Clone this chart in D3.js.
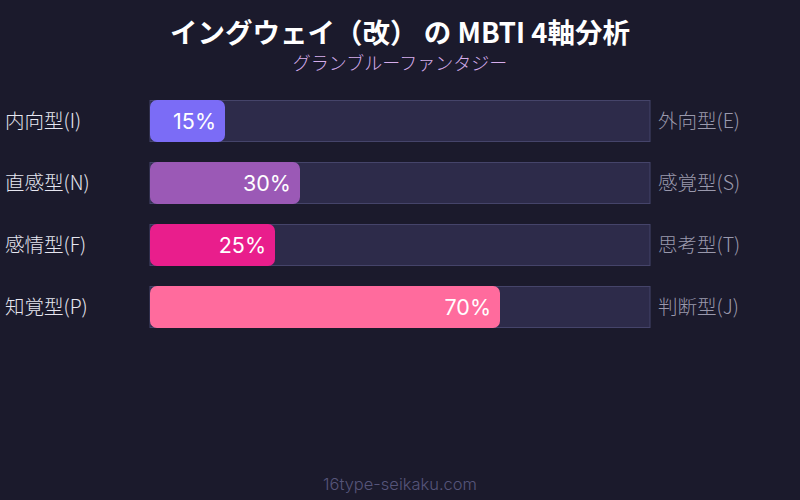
<!DOCTYPE html>
<html>
<head>
<meta charset="utf-8">
<script src="https://cdn.jsdelivr.net/npm/d3@7"></script>
<style>
  html, body { margin: 0; padding: 0; background: #1b1a2c; }
  svg { display: block; font-family: "Noto Sans CJK JP", Inter, sans-serif; }
</style>
</head>
<body>
<div id="chart"></div>
<script>
// chart data
const leftLabels = ["内向型(I)", "直感型(N)", "感情型(F)", "知覚型(P)"];
const rightLabels = ["外向型(E)", "感覚型(S)", "思考型(T)", "判断型(J)"];
const percents = [15, 30, 25, 70];
const barColors = ["#7b6cf6", "#9b59b6", "#e91e8c", "#ff6b9d"];

const W = 800, H = 500;
const ROW_STEP = 62, BAR_H = 42, TOP = 100;

const svg = d3.select("#chart")
  .append("svg")
  .attr("width", W)
  .attr("height", H);

svg.append("rect")
  .attr("width", W)
  .attr("height", H)
  .attr("fill", "#1b1a2c");

// title + subtitle
svg.append("text")
  .attr("x", W / 2)
  .attr("y", 43)
  .attr("text-anchor", "middle")
  .attr("fill", "#ffffff")
  .attr("font-size", 27.5)
  .attr("font-weight", "bold")
  .text("イングウェイ（改） の MBTI 4軸分析");

svg.append("text")
  .attr("x", W / 2)
  .attr("y", 70)
  .attr("text-anchor", "middle")
  .attr("fill", "#d6adec")
  .attr("font-size", 18)
  .attr("font-weight", 300)
  .text("グランブルーファンタジー");

const x = d3.scaleLinear().domain([0, 100]).range([150, 650]);
const y = d3.scaleBand()
  .domain(d3.range(percents.length))
  .range([TOP, TOP + ROW_STEP * (percents.length - 1) + BAR_H])
  .paddingInner((ROW_STEP - BAR_H) / ROW_STEP)
  .paddingOuter(0);

const rows = svg.selectAll("g.row")
  .data(percents)
  .enter()
  .append("g")
  .attr("class", "row");

// track
rows.append("rect")
  .attr("x", x(0))
  .attr("y", (d, i) => y(i) + 0.5)
  .attr("width", x(100) - x(0))
  .attr("height", y.bandwidth() - 1)
  .attr("fill", "#2d2b4a")
  .attr("stroke", "#45446a")
  .attr("stroke-width", 1);

// value bar
rows.append("rect")
  .attr("x", x(0))
  .attr("y", (d, i) => y(i))
  .attr("width", d => x(d) - x(0))
  .attr("height", y.bandwidth())
  .attr("rx", 7)
  .attr("fill", (d, i) => barColors[i]);

rows.append("text")
  .attr("x", d => x(d) - 9)
  .attr("y", (d, i) => y(i) + y.bandwidth() / 2 + 7.5)
  .attr("text-anchor", "end")
  .attr("fill", "#ffffff")
  .attr("font-family", "Inter, sans-serif")
  .attr("font-size", 21.5)
  .attr("font-weight", 400)
  .text(d => d + "%");

rows.append("text")
  .attr("x", 5)
  .attr("y", (d, i) => y(i) + y.bandwidth() / 2 + 7)
  .attr("fill", "#e6e6f0")
  .attr("font-size", 19.5)
  .attr("font-weight", 300)
  .text((d, i) => leftLabels[i]);

rows.append("text")
  .attr("x", 658)
  .attr("y", (d, i) => y(i) + y.bandwidth() / 2 + 7)
  .attr("fill", "#9a99ad")
  .attr("font-size", 19.5)
  .attr("font-weight", 300)
  .text((d, i) => rightLabels[i]);

// footer
svg.append("text")
  .attr("x", W / 2)
  .attr("y", 490)
  .attr("text-anchor", "middle")
  .attr("fill", "#56557a")
  .attr("font-size", 16.5)
  .attr("font-weight", 300)
  .attr("font-family", "Inter, sans-serif")
  .text("16type-seikaku.com");
</script>
</body>
</html>
